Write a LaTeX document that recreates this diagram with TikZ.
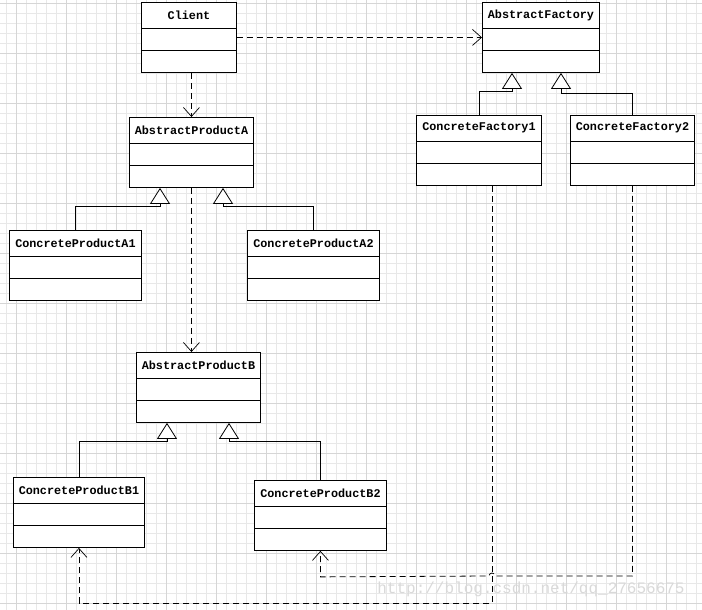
\documentclass[tikz,border=0pt]{standalone}
\usepackage{fontspec}
\usetikzlibrary{arrows.meta,calc,positioning}
\newfontfamily\umlfont{Liberation Mono}

% one class box: name, x, y (top left), width, title
\newcommand{\umlclass}[5]{%
  \node[classbox, minimum width=#4pt, anchor=north west] (#1) at (#2,#3) {};
  \node[classtitle] (#1-title) at ($(#1.north)+(0,13)$) {#5};
  \draw[classline] ($(#1.north west)+(0,26)$) -- ($(#1.north east)+(0,26)$);
  \draw[classline] ($(#1.north west)+(0,48)$) -- ($(#1.north east)+(0,48)$);
}

\begin{document}
\begin{tikzpicture}[x=1pt, y=-1pt]

    % Styles
    \tikzset{
        gridminor/.style={draw=gray!18, line width=0.6pt},
        gridmajor/.style={draw=gray!32, line width=0.6pt},
        classbox/.style={draw=black, fill=white, line width=0.9pt, minimum height=70pt, inner sep=0pt},
        classline/.style={line width=0.9pt},
        classtitle/.style={font=\umlfont\bfseries\fontsize{11.8}{12}\selectfont, inner sep=0pt},
        depend/.style={line width=0.8pt, dash pattern=on 6pt off 4pt,
            -{Straight Barb[length=9pt, width=16pt, line width=0.7pt]}},
        inherit/.style={line width=0.9pt,
            -{Triangle[open, length=16pt, width=20pt, fill=white, line width=0.8pt]}},
        watermark/.style={font=\umlfont\fontsize{16}{16}\selectfont, text=gray!30, inner sep=0pt}
    }

    % Background and grid
    \fill[white] (0,0) rectangle (702,610);
    \useasboundingbox (0,0) rectangle (702,610);
    \foreach \gx in {6,16,...,696} \draw[gridminor] (\gx,0) -- (\gx,610);
    \foreach \gy in {3,13,...,603} \draw[gridminor] (0,\gy) -- (702,\gy);
    \foreach \gx in {16,66,...,666} \draw[gridmajor] (\gx,0) -- (\gx,610);
    \foreach \gy in {3,53,...,603} \draw[gridmajor] (0,\gy) -- (702,\gy);

    % Classes
    \umlclass{client}{141}{2}{95}{Client}
    \umlclass{af}{482}{2}{117}{AbstractFactory}
    \umlclass{cf1}{416}{115}{125}{ConcreteFactory1}
    \umlclass{cf2}{570}{115}{124}{ConcreteFactory2}
    \umlclass{apa}{129}{117}{124}{AbstractProductA}
    \umlclass{cpa1}{9}{230}{132}{ConcreteProductA1}
    \umlclass{cpa2}{247}{230}{132}{ConcreteProductA2}
    \umlclass{apb}{136}{352}{124}{AbstractProductB}
    \umlclass{cpb1}{13}{477}{131}{ConcreteProductB1}
    \umlclass{cpb2}{254}{480}{132}{ConcreteProductB2}

    % Tips of the inheritance arrows
    \coordinate (apa-l) at ($(apa.south west)+(31,0)$);
    \coordinate (apa-r) at ($(apa.south west)+(94,0)$);
    \coordinate (af-l) at ($(af.south west)+(30,0)$);
    \coordinate (af-r) at ($(af.south west)+(79,0)$);
    \coordinate (apb-l) at ($(apb.south west)+(31,0)$);
    \coordinate (apb-r) at ($(apb.south west)+(93,0)$);

    % Inheritance
    \draw[inherit] (cpa1.north) |- ($(apa-l)+(0,19)$) -- (apa-l);
    \draw[inherit] (cpa2.north) |- ($(apa-r)+(0,19)$) -- (apa-r);
    \draw[inherit] (cf1.north) |- ($(af-l)+(0,19)$) -- (af-l);
    \draw[inherit] (cf2.north) |- ($(af-r)+(0,21)$) -- (af-r);
    \draw[inherit] (cpb1.north) |- ($(apb-l)+(0,19)$) -- (apb-l);
    \draw[inherit] (cpb2.north) |- ($(apb-r)+(0,19)$) -- (apb-r);

    % Dependencies
    \draw[depend] (client.east) -- (af.west);
    \draw[depend] (client.south -| apa.north) -- (apa.north);
    \draw[depend] (apa.south) -- (apa.south |- apb.north);

    % Factories down to the concrete products
    \coordinate (cf1-out) at ($(cf1.south west)+(76,0)$);
    \coordinate (hop) at (cf1-out |- 0,576);
    \draw[depend] (cf1-out) |- ($(cpb1.south)+(0,55)$) -- (cpb1.south);
    \draw[depend] (cf2.south) |- ($(hop)+(3,0)$) arc[start angle=0, end angle=-180, radius=3]
        -- ($(cpb2.south)+(0,26)$) -- (cpb2.south);

    % Watermark
    \node[watermark] (wm) at (531,589) {http://blog.csdn.net/qq\_27656675};

\end{tikzpicture}
\end{document}
